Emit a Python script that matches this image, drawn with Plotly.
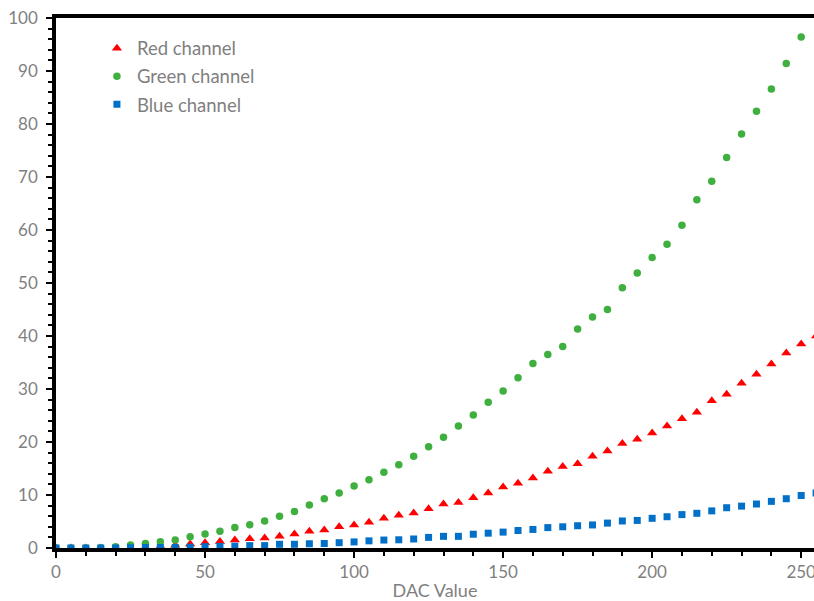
import plotly.graph_objects as go

dac = list(range(0, 256, 5))

red = [0, 0, 0, 0, 0.05, 0.1, 0.15, 0.3, 0.5, 0.75,
       1.0, 1.25, 1.5, 1.75, 1.9, 2.2, 2.65, 3.15, 3.4, 4.0,
       4.35, 4.85, 5.6, 6.2, 6.6, 7.4, 8.3, 8.6, 9.5, 10.4,
       11.5, 12.2, 13.2, 14.5, 15.4, 15.9, 17.3, 18.3, 19.7, 20.5,
       21.7, 23.0, 24.4, 25.6, 27.8, 29.0, 31.1, 32.8, 34.7, 36.8,
       38.5, 40.0]

green = [0, 0, 0, 0.05, 0.25, 0.55, 0.85, 1.2, 1.5, 2.1,
         2.65, 3.15, 3.85, 4.4, 5.1, 6.0, 6.9, 8.1, 9.3, 10.4,
         11.7, 12.9, 14.3, 15.7, 17.3, 19.1, 20.9, 23.0, 25.1, 27.5,
         29.6, 32.1, 34.8, 36.5, 38.0, 41.3, 43.6, 45.0, 49.1, 51.9,
         54.8, 57.3, 60.9, 65.7, 69.2, 73.7, 78.1, 82.4, 86.6, 91.4,
         96.4, 101.5]

blue = [0, 0, 0, 0, 0, 0.05, 0.1, 0.1, 0.1, 0.15,
        0.25, 0.3, 0.35, 0.45, 0.45, 0.7, 0.7, 0.8, 0.85, 1.0,
        1.15, 1.35, 1.5, 1.55, 1.7, 2.0, 2.2, 2.2, 2.6, 2.8,
        3.0, 3.3, 3.5, 3.85, 4.0, 4.2, 4.35, 4.7, 5.1, 5.2,
        5.6, 5.9, 6.3, 6.55, 7.0, 7.6, 7.9, 8.3, 8.8, 9.3,
        9.9, 10.4]

series_names = ["Red channel", "Green channel", "Blue channel"]
series_colors = ["#ff0000", "#3fb03f", "#0070c8"]
series_symbols = ["triangle-up", "circle", "square"]
series_sizes = [9, 7.5, 7]

TXT = "#7f7f7f"
FONT = "Lato"

fig = go.Figure()
for name, vals, col, sym, sz in zip(series_names, [red, green, blue],
                                    series_colors, series_symbols, series_sizes):
    fig.add_trace(go.Scatter(
        x=dac, y=vals, mode="markers", name=name, legendgroup=name,
        marker=dict(color=col, symbol=sym, size=sz, line=dict(width=0)),
        cliponaxis=True,
    ))

fig.update_layout(
    width=814, height=601,
    margin=dict(l=56, r=0, t=18, b=53, autoexpand=False),
    plot_bgcolor="white", paper_bgcolor="white",
    font=dict(family=FONT, color=TXT, size=17),
    showlegend=True,
    legend=dict(
        x=0.054, y=0.978, xanchor="left", yanchor="top",
        font=dict(family=FONT, size=18.5, color=TXT),
        bgcolor="rgba(0,0,0,0)", traceorder="grouped", tracegroupgap=1,
    ),
    xaxis=dict(
        range=[0, 254.3], showgrid=False, zeroline=False, automargin=False,
        showline=True, linecolor="black", linewidth=3.5, mirror=True,
        ticks="outside", ticklen=6, tickwidth=2, tickcolor="black",
        dtick=50, tick0=0, ticklabeloverflow="allow",
        tickfont=dict(family=FONT, size=17, color=TXT),
        minor=dict(dtick=10, ticks="outside", ticklen=4, tickwidth=2, tickcolor="black"),
        title=dict(text="DAC Value", font=dict(family=FONT, size=18, color=TXT), standoff=4),
    ),
    yaxis=dict(
        range=[0, 100], showgrid=False, zeroline=False, automargin=False,
        showline=True, linecolor="black", linewidth=3.5, mirror=False,
        ticks="outside", ticklen=6, tickwidth=2, tickcolor="black",
        dtick=10, tick0=0,
        tickfont=dict(family=FONT, size=17, color=TXT),
        ticklabelstandoff=5,
        minor=dict(dtick=2, ticks="outside", ticklen=4, tickwidth=2, tickcolor="black"),
    ),
)

fig.write_html("out.html")
